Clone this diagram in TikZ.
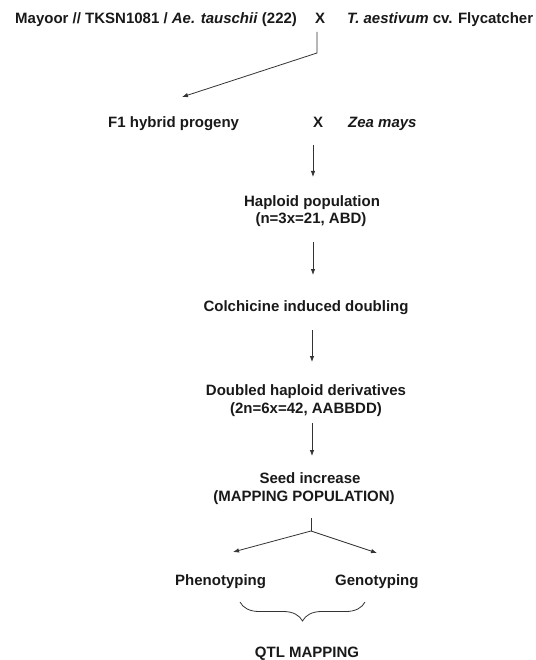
\documentclass[tikz,border=0pt]{standalone}
\usepackage{fontspec}
\setmainfont{Liberation Sans}
\usetikzlibrary{arrows.meta,decorations.pathreplacing}
\begin{document}
\begin{tikzpicture}[x=1pt,y=-1pt,
  lbl/.style={inner sep=0pt,anchor=base,text=black!90,font=\fontsize{15}{18}\selectfont\bfseries},
  lblw/.style={lbl,anchor=base west},
  arr/.style={draw=black!80,line width=0.8pt,-{Latex[length=6pt,width=4.5pt]}},
  ln/.style={draw=black!80,line width=0.8pt}]
\useasboundingbox (0,0) rectangle (535,660);
% row 1
\node[lblw] (p1) at (15,24) {Mayoor // TKSN1081 / \textit{Ae. tauschii} (222)};
\node[lbl] (x1) at (320,24) {X};
\node[lblw] (p2) at (347,24) {\textit{T. aestivum} cv. Flycatcher};
% row 2
\node[lblw] (f1) at (108,128) {F1 hybrid progeny};
\node[lbl] (x2) at (318,128) {X};
\node[lblw] (zm) at (348,128) {\textit{Zea mays}};
% column
\node[lbl] (hap1) at (312,207) {Haploid population};
\node[lbl] (hap2) at (311,223) {(n=3x=21, ABD)};
\node[lbl] (col) at (306,311) {Colchicine induced doubling};
\node[lbl] (dh1) at (306,395) {Doubled haploid derivatives};
\node[lbl] (dh2) at (306,413) {(2n=6x=42, AABBDD)};
\node[lbl] (sd1) at (310,483) {Seed increase};
\node[lbl] (sd2) at (304,501) {(MAPPING POPULATION)};
\node[lblw] (phe) at (175,585) {Phenotyping};
\node[lblw] (gen) at (335,585) {Genotyping};
\node[lbl] (qtl) at (307,657) {QTL MAPPING};
% connector coordinates
\coordinate (c1a) at (317,32);
\coordinate (c1b) at (317,53);
\coordinate (c1c) at (182,97);
\coordinate (a1s) at (313,145);
\coordinate (a1e) at (313,177);
\coordinate (a2s) at (313,242);
\coordinate (a2e) at (313,275);
\coordinate (a3s) at (312,330);
\coordinate (a3e) at (312,362);
\coordinate (a4s) at (312,423);
\coordinate (a4e) at (312,456);
\coordinate (s0) at (311,518);
\coordinate (s1) at (311,531);
\coordinate (sl) at (233,552);
\coordinate (sr) at (377,553);
\coordinate (bl) at (240,602);
\coordinate (br) at (365,602);
% connectors
\draw[arr] (c1a) -- (c1b) -- (c1c);
\draw[arr] (a1s) -- (a1e);
\draw[arr] (a2s) -- (a2e);
\draw[arr] (a3s) -- (a3e);
\draw[arr] (a4s) -- (a4e);
\draw[ln] (s0) -- (s1);
\draw[arr] (s1) -- (sl);
\draw[arr] (s1) -- (sr);
\draw[ln,decorate,decoration={brace,mirror,amplitude=19pt}] (bl) -- (br);
\end{tikzpicture}
\end{document}
